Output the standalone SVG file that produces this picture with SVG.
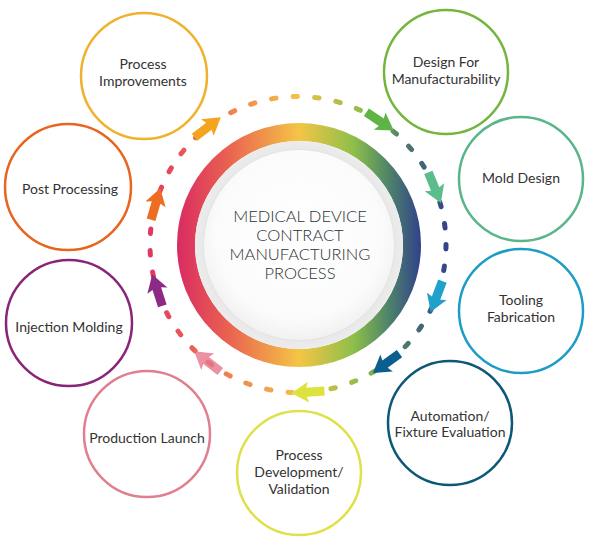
<svg xmlns="http://www.w3.org/2000/svg" width="600" height="559" viewBox="0 0 600 559">
<defs>
<linearGradient id="ringGrad" gradientUnits="userSpaceOnUse" x1="176" y1="0" x2="422" y2="0">
<stop offset="0" stop-color="#d92a62"/>
<stop offset="0.22" stop-color="#ea6450"/>
<stop offset="0.5" stop-color="#f4c545"/>
<stop offset="0.72" stop-color="#8fbf4a"/>
<stop offset="0.86" stop-color="#4f8668"/>
<stop offset="1" stop-color="#303f8c"/>
</linearGradient>
<linearGradient id="dashGrad" gradientUnits="userSpaceOnUse" x1="150" y1="0" x2="446" y2="0">
<stop offset="0" stop-color="#e03862"/>
<stop offset="0.2" stop-color="#ec7050"/>
<stop offset="0.5" stop-color="#f4c048"/>
<stop offset="0.72" stop-color="#8fbb4c"/>
<stop offset="0.86" stop-color="#4f7a6c"/>
<stop offset="1" stop-color="#34448a"/>
</linearGradient>
<radialGradient id="diskGrad" cx="0.5" cy="0.45" r="0.55">
<stop offset="0" stop-color="#ffffff"/>
<stop offset="0.8" stop-color="#fbfbfb"/>
<stop offset="1" stop-color="#f1f1f1"/>
</radialGradient>
<radialGradient id="bandGrad" cx="0.5" cy="0.5" r="0.5">
<stop offset="0.88" stop-color="#d6d6d6"/>
<stop offset="0.93" stop-color="#e9e9e9"/>
<stop offset="1" stop-color="#ececec"/>
</radialGradient>
<path id="arr" d="M-17,-4.5 L1,-4.5 L-1,-10.5 L16,0 L-1,10.5 L1,4.5 L-17,4.5 Z"/>
</defs>
<style>
.node circle { fill: #ffffff; stroke-width: 2.5; }
.node text { font-family: Lato, "Liberation Sans", sans-serif; font-size: 14px; fill: #333333; text-anchor: middle; }
.center text { font-family: Lato, "Liberation Sans", sans-serif; font-size: 16.5px; fill: #2c3236; text-anchor: middle; font-weight: 300; }
</style>
<rect width="600" height="559" fill="#ffffff"/>

<g id="center" class="center">
<circle cx="299" cy="245" r="113" fill="none" stroke="url(#ringGrad)" stroke-width="18"/>
<circle cx="299" cy="245" r="104" fill="url(#bandGrad)"/>
<circle cx="299" cy="245" r="95" fill="url(#diskGrad)"/>
<text x="300" y="222">MEDICAL DEVICE</text>
<text x="300" y="241">CONTRACT</text>
<text x="300" y="260">MANUFACTURING</text>
<text x="300" y="279">PROCESS</text>
</g>

<g id="connectors">
<circle cx="298" cy="244.5" r="148" fill="none" stroke="url(#dashGrad)" stroke-width="5" stroke-linecap="round" stroke-dasharray="4.5 17.13"/>
<use href="#arr" transform="translate(208.1,126.9) rotate(-37.4)" fill="#f4a41f"/>
<use href="#arr" transform="translate(380.5,121.7) rotate(33.9)" fill="#5fb446"/>
<use href="#arr" transform="translate(434.8,188.1) rotate(67.6)" fill="#5cbd8c"/>
<use href="#arr" transform="translate(436.4,297.1) rotate(110.8)" fill="#1fa1cb"/>
<use href="#arr" transform="translate(385.8,363.6) rotate(143.6)" fill="#0b5f8f"/>
<use href="#arr" transform="translate(307.5,392.2) rotate(176.3)" fill="#dde33e"/>
<use href="#arr" transform="translate(206.9,361.1) rotate(218)" fill="#e6758a" fill-opacity="0.8"/>
<use href="#arr" transform="translate(157.1,289.7) rotate(252.2)" fill="#8c2a85"/>
<use href="#arr" transform="translate(155.8,203.5) rotate(286.1)" fill="#ef6d22"/>
</g>

<g id="process-improvements" class="node">
<circle cx="144" cy="76" r="63" stroke="#f0b22c"/>
<text x="143" y="69">Process</text>
<text x="143" y="86">Improvements</text>
</g>
<g id="design-for-manufacturability" class="node">
<circle cx="446" cy="72" r="62" stroke="#74b53e"/>
<text x="446" y="67">Design For</text>
<text x="446" y="84">Manufacturability</text>
</g>
<g id="mold-design" class="node">
<circle cx="521" cy="179" r="62" stroke="#5bb58a"/>
<text x="521" y="183">Mold Design</text>
</g>
<g id="tooling-fabrication" class="node">
<circle cx="521" cy="311" r="62" stroke="#1d9cc6"/>
<text x="521" y="305">Tooling</text>
<text x="521" y="322">Fabrication</text>
</g>
<g id="automation-fixture-evaluation" class="node">
<circle cx="450" cy="423" r="62" stroke="#0d5877"/>
<text x="450" y="421">Automation/</text>
<text x="450" y="437">Fixture Evaluation</text>
</g>
<g id="process-development-validation" class="node">
<circle cx="299" cy="473" r="62" stroke="#dfe14a"/>
<text x="299" y="460">Process</text>
<text x="299" y="477">Development/</text>
<text x="299" y="494">Validation</text>
</g>
<g id="production-launch" class="node">
<circle cx="147" cy="434" r="63" stroke="#e0808f"/>
<text x="147" y="443">Production Launch</text>
</g>
<g id="injection-molding" class="node">
<circle cx="69" cy="323" r="63" stroke="#8a2478"/>
<text x="69" y="332">Injection Molding</text>
</g>
<g id="post-processing" class="node">
<circle cx="68" cy="187" r="63" stroke="#e8641f"/>
<text x="70" y="194">Post Processing</text>
</g>
</svg>
